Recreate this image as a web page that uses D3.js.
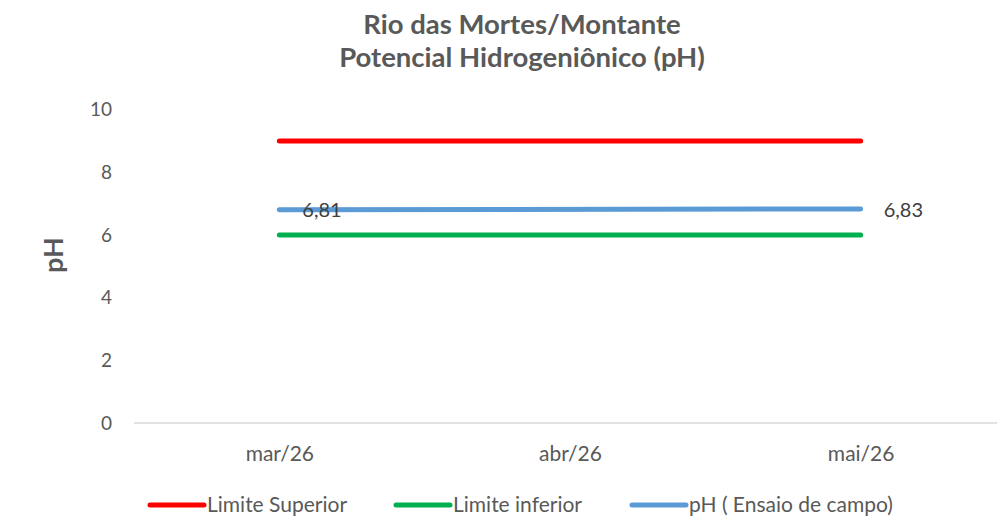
<!DOCTYPE html>
<html><head><meta charset="utf-8">
<script src="https://cdn.jsdelivr.net/npm/d3@7"></script>
<style>
body{margin:0;background:#fff;}
svg{display:block;font-family:Lato,"Open Sans",sans-serif;}
</style></head>
<body><svg id="c" width="998" height="519"></svg>
<script>
const titleLines = ["Rio das Mortes/Montante", "Potencial Hidrogeniônico (pH)"];
const yLabel = "pH";
const categories = ["mar/26", "abr/26", "mai/26"];
const limiteSuperior = [9, 9, 9];
const limiteInferior = [6, 6, 6];
const phCampo = [6.81, null, 6.83];
const yTicks = [0, 2, 4, 6, 8, 10];
const seriesNames = ["Limite Superior", "Limite inferior", "pH ( Ensaio de campo)"];
const seriesColors = ["#FF0000", "#00B050", "#5B9BD5"];

const svg = d3.select("#c");
const textColor = "#595959";
const FF = "Lato,'Open Sans',sans-serif";

const x = d3.scalePoint().domain(categories).range([134, 1006]).padding(0.5);
const y = d3.scaleLinear().domain([0, 10]).range([423, 109.7]);

// title
svg.append("g").selectAll("text").data(titleLines).join("text")
  .attr("x", 522).attr("y", (d, i) => 34 + i * 33)
  .attr("text-anchor", "middle").attr("font-size", 27.5).attr("font-weight", "bold")
  .attr("fill", textColor).text(d => d);

// y axis (no line)
const ya = svg.append("g")
  .call(d3.axisLeft(y).tickValues(yTicks).tickSize(0).tickPadding(0));
ya.select(".domain").remove();
ya.selectAll("text").attr("x", 112).attr("fill", textColor).attr("font-size", 19)
  .attr("font-family", FF);

// y label
svg.append("text").attr("transform", "translate(63,255) rotate(-90)")
  .attr("text-anchor", "middle").attr("font-size", 27).attr("font-weight", "bold")
  .attr("fill", textColor).text(yLabel);

// x axis
const xa = svg.append("g").attr("transform", `translate(0,${y(0)})`)
  .call(d3.axisBottom(x).tickSize(0).tickPadding(23));
xa.select(".domain").remove();
xa.append("line").attr("x1", 134).attr("x2", 997).attr("stroke", "#D9D9D9").attr("stroke-width", 1.5);
xa.selectAll("text").attr("fill", textColor).attr("font-size", 21)
  .attr("font-family", FF);

// series
const allSeries = [limiteSuperior, limiteInferior, phCampo];
const line = d3.line().x(d => x(d.c)).y(d => y(d.v));
allSeries.forEach((s, i) => {
  const pts = categories.map((c, j) => ({c, v: s[j]})).filter(d => d.v != null);
  svg.append("path").datum(pts).attr("d", line).attr("fill", "none")
    .attr("stroke", seriesColors[i]).attr("stroke-width", 5).attr("stroke-linecap", "round");
});

// data labels for pH
const fmt = v => v.toFixed(2).replace(".", ",");
const phPts = categories.map((c, j) => ({c, v: phCampo[j]})).filter(d => d.v != null);
svg.append("g").selectAll("text").data(phPts).join("text")
  .attr("x", d => x(d.c) + 23).attr("y", d => y(d.v) + 7.5)
  .attr("font-size", 20).attr("fill", "#404040").text(d => fmt(d.v));

// legend
const legX = [150, 396, 632];
const lg = svg.append("g").selectAll("g").data(seriesNames).join("g")
  .attr("transform", (d, i) => `translate(${legX[i]},505)`);
lg.append("line").attr("x1", 0).attr("x2", 54).attr("stroke", (d, i) => seriesColors[i])
  .attr("stroke-width", 5).attr("stroke-linecap", "round");
lg.append("text").attr("x", 57).attr("y", 7).attr("font-size", 21).attr("fill", textColor).text(d => d);
</script></body></html>
